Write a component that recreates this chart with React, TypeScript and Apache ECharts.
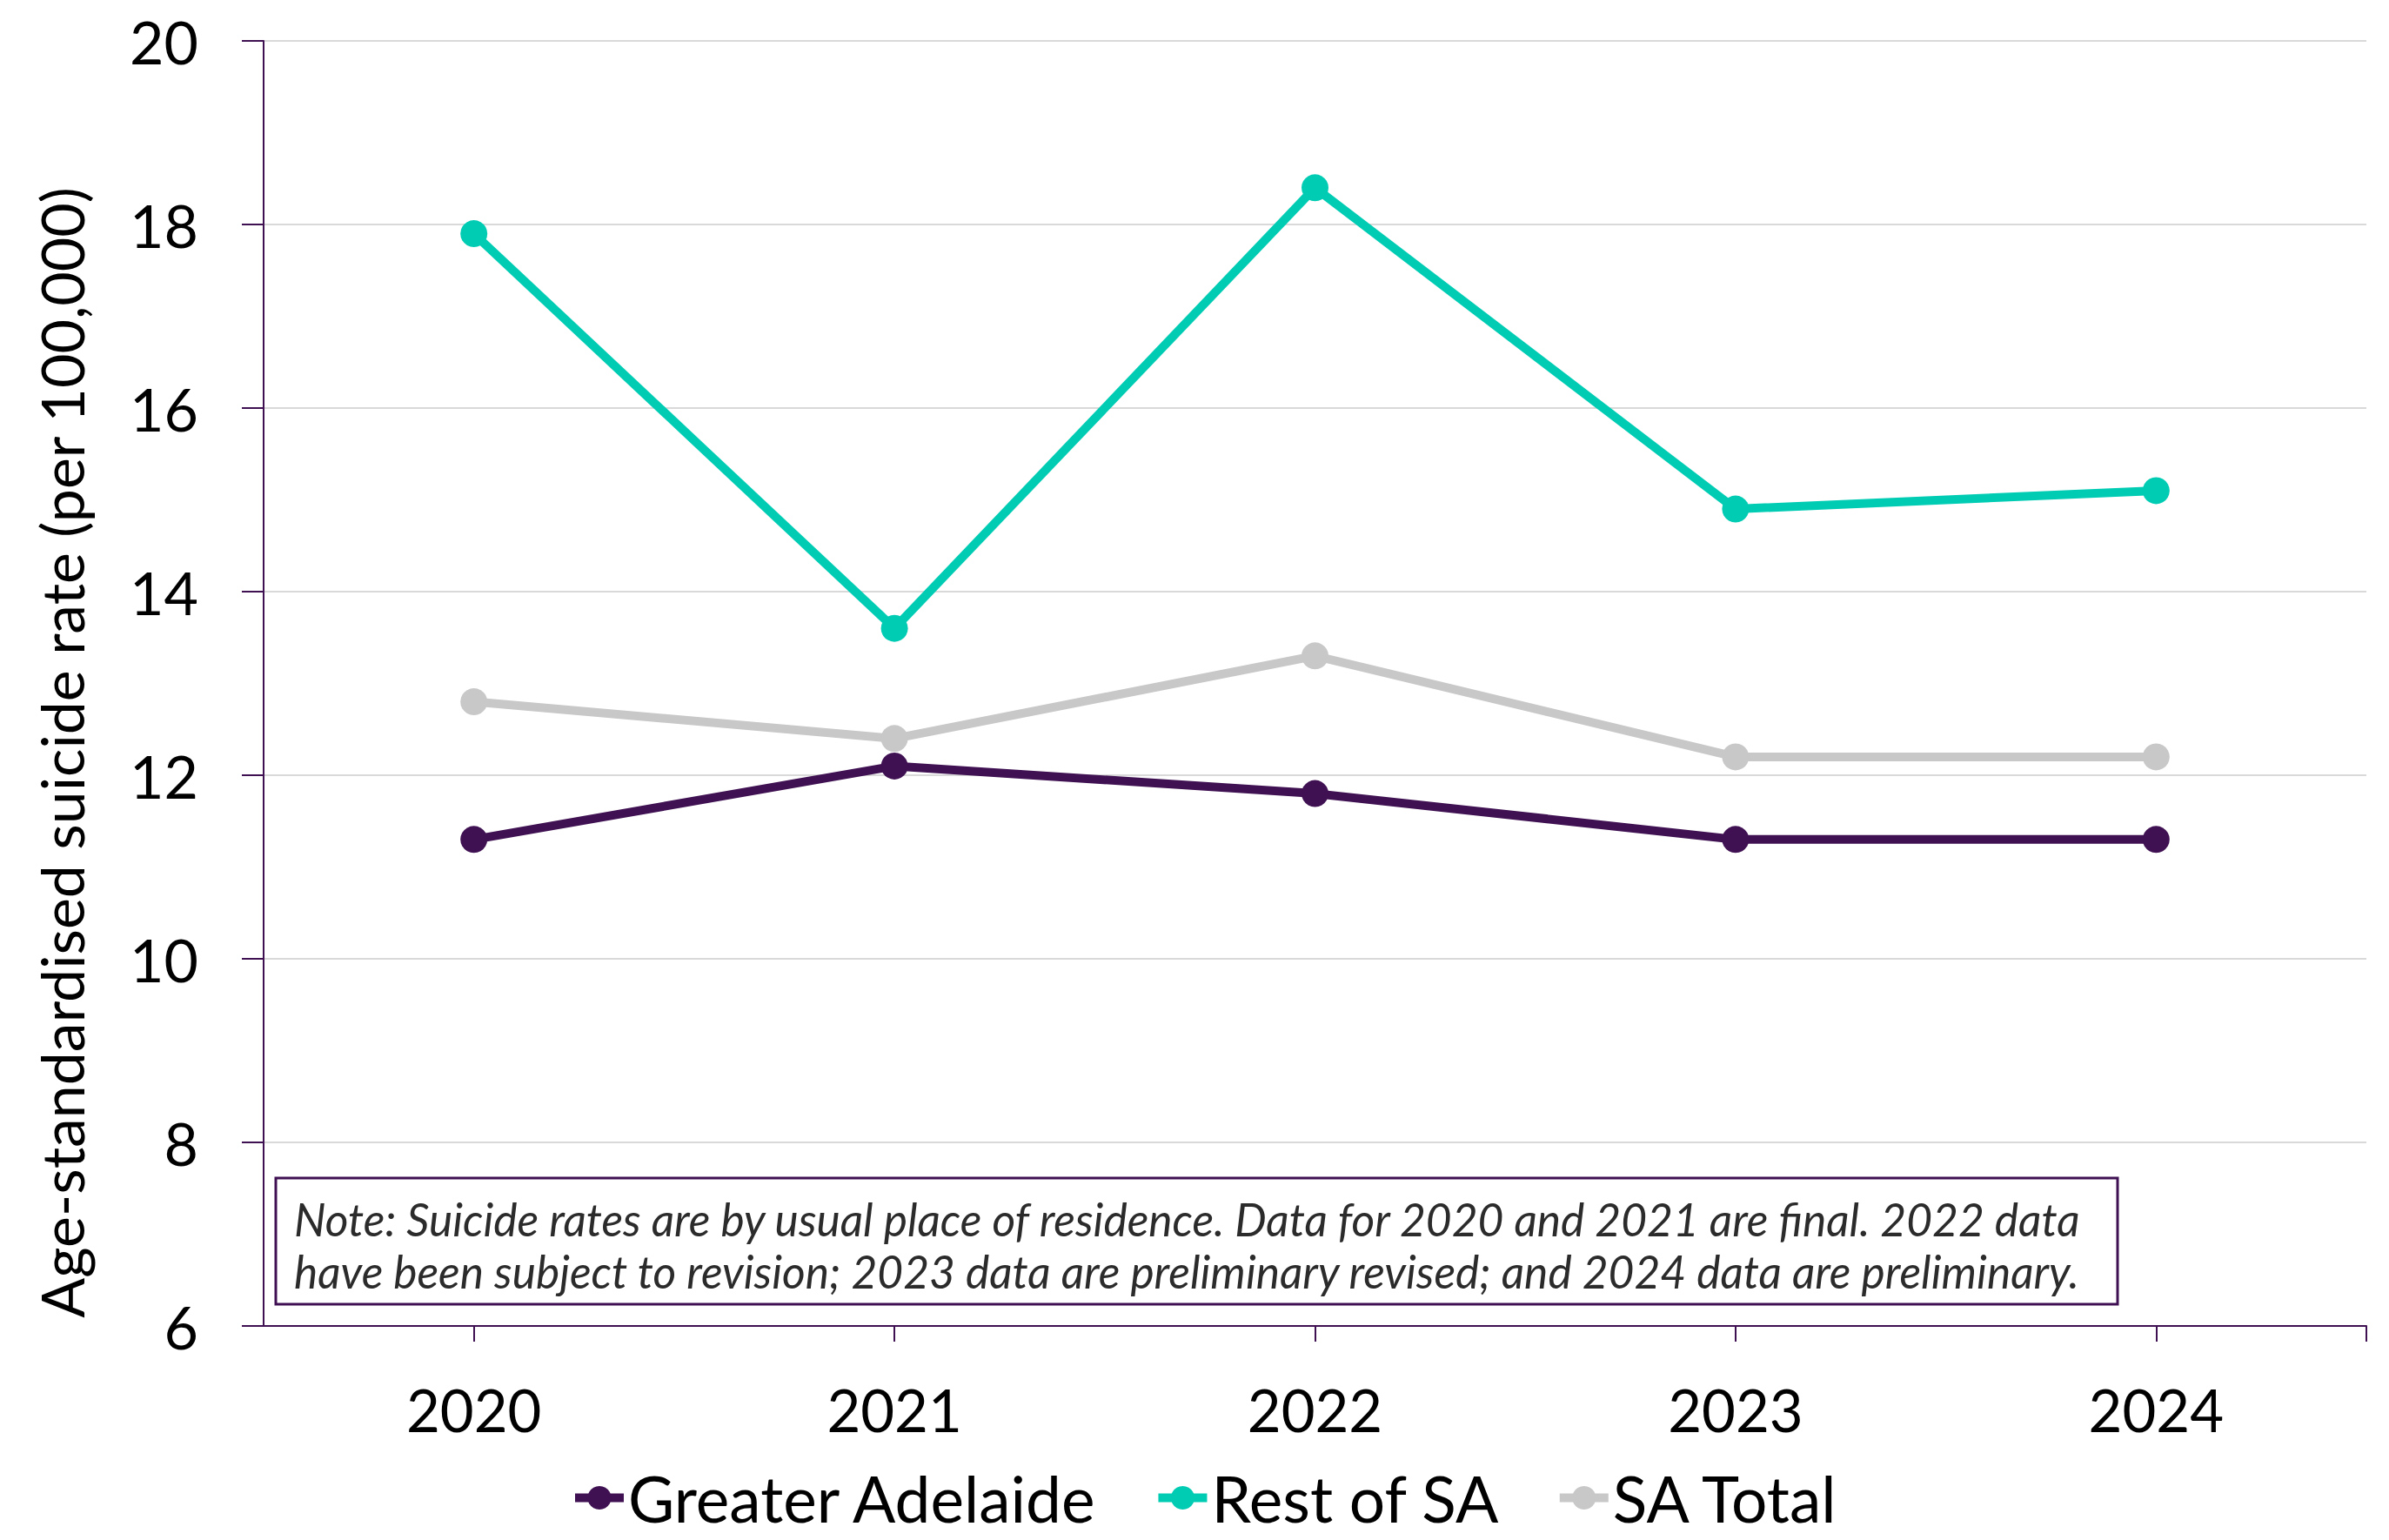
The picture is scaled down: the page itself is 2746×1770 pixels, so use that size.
import React, { useEffect, useRef } from "react";
import * as echarts from "echarts";

const categories = ["2020", "2021", "2022", "2023", "2024"];
const greaterAdelaide = [11.3, 12.1, 11.8, 11.3, 11.3];
const restOfSA = [17.9, 13.6, 18.4, 14.9, 15.1];
const saTotal = [12.8, 12.4, 13.3, 12.2, 12.2];
const seriesNames = ["Greater Adelaide", "Rest of SA", "SA Total"];
const seriesColors = ["#3F1152", "#00CCB4", "#C8C8C8"];
const yAxisTitle = "Age-standardised suicide rate (per 100,000)";
const noteLines = [
  "Note: Suicide rates are by usual place of residence. Data for 2020 and 2021 are final. 2022 data",
  "have been subject to revision; 2023 data are preliminary revised; and 2024 data are preliminary.",
];

const FONT = "Lato";
const PURPLE = "#3F1152";

export default function App() {
  const ref = useRef<HTMLDivElement>(null);
  useEffect(() => {
    if (!ref.current) return;
    const chart = echarts.init(ref.current, undefined, { renderer: "svg" });
    const values = [greaterAdelaide, restOfSA, saTotal];
    chart.setOption({
      animation: false,
      backgroundColor: "#FFFFFF",
      textStyle: { fontFamily: FONT },
      grid: { left: 303, right: 26, top: 47, bottom: 246, containLabel: false },
      xAxis: [
        {
          type: "category",
          data: categories,
          boundaryGap: true,
          axisLine: { show: true, lineStyle: { color: PURPLE, width: 2 } },
          axisTick: { show: true, alignWithLabel: true, length: 18, lineStyle: { color: PURPLE, width: 2 } },
          axisLabel: { color: "#000000", fontSize: 67, fontFamily: FONT, margin: 62 },
          splitLine: { show: false },
        },
        {
          type: "value",
          position: "bottom",
          min: 0,
          max: 1,
          interval: 1,
          axisLine: { show: false },
          axisLabel: { show: false },
          splitLine: { show: false },
          axisTick: { show: true, length: 18, customValues: [1], lineStyle: { color: PURPLE, width: 2 } },
        },
      ],
      yAxis: {
        type: "value",
        min: 6,
        max: 20,
        interval: 2,
        axisLine: { show: true, lineStyle: { color: PURPLE, width: 2 } },
        axisTick: { show: true, length: 25, lineStyle: { color: PURPLE, width: 2 } },
        axisLabel: { color: "#000000", fontSize: 68, fontFamily: FONT, margin: 75 },
        splitLine: { show: true, lineStyle: { color: "#D9D9D9", width: 2 } },
      },
      legend: {
        data: seriesNames,
        left: 651,
        top: 1680,
        itemWidth: 56,
        itemHeight: 34,
        itemGap: 64,
        lineStyle: { width: 10 },
        textStyle: { fontSize: 73, lineHeight: 72, color: "#000000", fontFamily: FONT },
      },
      series: seriesNames.map((name, i) => ({
        name,
        type: "line",
        xAxisIndex: 0,
        data: values[i],
        symbol: "circle",
        symbolSize: 31,
        lineStyle: { color: seriesColors[i], width: 10 },
        itemStyle: { color: seriesColors[i] },
        emphasis: { disabled: true },
      })),
      graphic: [
        {
          type: "text",
          x: 70,
          y: 865,
          rotation: Math.PI / 2,
          style: {
            text: yAxisTitle,
            fontSize: 68,
            fontFamily: FONT,
            fill: "#000000",
            align: "center",
            verticalAlign: "middle",
          },
        },
        {
          type: "rect",
          shape: { x: 317, y: 1354, width: 2117, height: 145 },
          style: { fill: "#FFFFFF", stroke: PURPLE, lineWidth: 3 },
        },
        {
          type: "text",
          x: 338,
          y: 1401,
          style: {
            text: noteLines[0],
            fontSize: 51.5,
            fontStyle: "italic",
            fontFamily: FONT,
            fill: "#2B2B2B",
            align: "left",
            verticalAlign: "middle",
          },
        },
        {
          type: "text",
          x: 338,
          y: 1461,
          style: {
            text: noteLines[1],
            fontSize: 51.5,
            fontStyle: "italic",
            fontFamily: FONT,
            fill: "#2B2B2B",
            align: "left",
            verticalAlign: "middle",
          },
        },
      ],
    });
    return () => chart.dispose();
  }, []);
  return (
    <div
      ref={ref}
      style={{ position: "fixed", left: 0, top: 0, width: 2746, height: 1770, background: "#FFFFFF" }}
    />
  );
}
